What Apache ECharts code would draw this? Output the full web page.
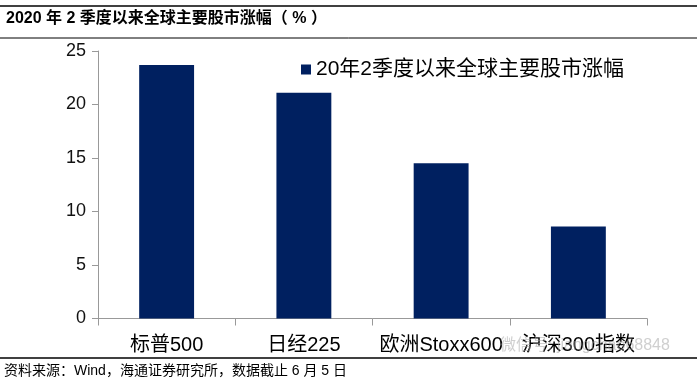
<!DOCTYPE html>
<html><head><meta charset="utf-8">
<script src="https://cdn.jsdelivr.net/npm/echarts@6/dist/echarts.min.js"></script>
<style>html,body{margin:0;padding:0;background:#fff}#c{width:697px;height:383px}</style>
</head><body><div id="c"></div>
<script>
var categories = ['标普500', '日经225', '欧洲Stoxx600', '沪深300指数'];
var values = [23.7, 21.1, 14.5, 8.6];
var seriesName = '20年2季度以来全球主要股市涨幅';
var yTicks = [0, 5, 10, 15, 20, 25];
var titleText = '2020 年 2 季度以来全球主要股市涨幅（ % ）';
var sourceText = '资料来源：Wind，海通证券研究所，数据截止 6 月 5 日';
var watermark = '微信号: jiangchao68848';

var chart = echarts.init(document.getElementById('c'), null, {renderer: 'canvas'});
var cjk = '"Liberation Sans", "Noto Sans CJK SC", sans-serif';
chart.setOption({
  animation: false,
  backgroundColor: '#fff',
  grid: {left: 98, right: 50, top: 51, bottom: 64.5, containLabel: false},
  legend: {
    data: [seriesName], left: 296, top: 54, icon: 'rect', itemWidth: 10, itemHeight: 10, itemGap: 4,
    textStyle: {fontSize: 21, fontFamily: cjk, color: '#000'}
  },
  xAxis: {
    type: 'category', data: categories,
    axisLine: {lineStyle: {color: '#999', width: 1}},
    axisTick: {show: true, alignWithLabel: false, length: 7, lineStyle: {color: '#999'}},
    axisLabel: {fontSize: 20, fontFamily: cjk, color: '#000', margin: 17, interval: 0}
  },
  yAxis: {
    type: 'value', min: yTicks[0], max: yTicks[yTicks.length - 1], interval: 5,
    axisLine: {show: true, lineStyle: {color: '#999', width: 1}},
    axisTick: {show: true, length: 6, lineStyle: {color: '#999'}},
    splitLine: {show: false},
    axisLabel: {fontSize: 18, fontFamily: cjk, color: '#111', margin: 12}
  },
  series: [{
    name: seriesName, type: 'bar', data: values, barCategoryGap: '60%',
    itemStyle: {color: '#002060'}
  }],
  graphic: [
    {type: 'line', shape: {x1: 0, y1: 6, x2: 697, y2: 6}, style: {stroke: '#000', lineWidth: 1.5}},
    {type: 'line', shape: {x1: 0, y1: 38, x2: 697, y2: 38}, style: {stroke: '#000', lineWidth: 1}},
    {type: 'text', left: 6, top: 11, style: {text: titleText, font: 'bold 16px "Liberation Sans", "Noto Sans CJK SC", sans-serif', fill: '#000'}},
    {type: 'line', shape: {x1: 0, y1: 358, x2: 697, y2: 358}, style: {stroke: '#000', lineWidth: 1.5}},
    {type: 'text', left: 4, top: 364, style: {text: sourceText, font: '14px "Liberation Sans", "Noto Sans CJK SC", sans-serif', fill: '#000'}},
    {type: 'text', left: 500, top: 338, z: 100, style: {text: watermark, font: '16px "Liberation Sans", "Noto Sans CJK SC", sans-serif', fill: 'rgba(160,160,160,0.5)'}}
  ]
});
</script></body></html>
